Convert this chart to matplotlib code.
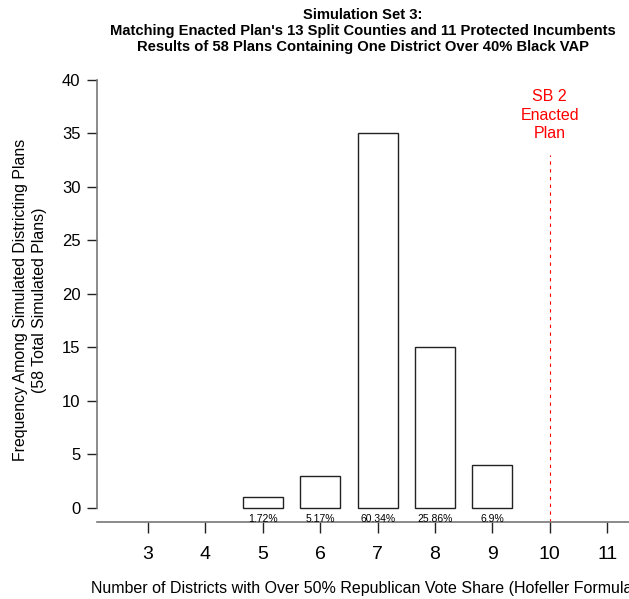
import numpy as np
import matplotlib
matplotlib.use("Agg")
import matplotlib.pyplot as plt

plt.rcParams['font.family'] = ['Liberation Sans', 'DejaVu Sans']

# data
districts = [5, 6, 7, 8, 9]
counts = [1, 3, 35, 15, 4]
pct_labels = ['1.72%', '5.17%', '60.34%', '25.86%', '6.9%']
x_ticks = [3, 4, 5, 6, 7, 8, 9, 10, 11]
y_ticks = [0, 5, 10, 15, 20, 25, 30, 35, 40]
enacted = 10

fig = plt.figure(figsize=(6.29, 5.99), dpi=100)
ax = fig.add_axes([97 / 629, 1 - 522 / 599, 1 - 97 / 629, (522 - 80) / 599])

ax.bar(districts, counts, width=0.7, color='white', edgecolor='#222222', linewidth=1.0)
for x, lab in zip(districts, pct_labels):
    ax.text(x, -1.0, lab, ha='center', va='center', fontsize=7.5)

# enacted plan marker
ax.plot([enacted, enacted], [-1.31, 33], color='red', linestyle=(0, (3, 4)), linewidth=0.8, clip_on=False)
ax.text(enacted, 36.7, 'SB 2\nEnacted\nPlan', color='red', ha='center', va='center',
        fontsize=11.5, linespacing=1.3)

ax.set_xlim(2.11, 11.38)
ax.set_ylim(-1.31, 40)

for s in ['top', 'right']:
    ax.spines[s].set_visible(False)
ax.spines['left'].set_bounds(0, 40)
ax.spines['left'].set_color('#777777')
ax.spines['bottom'].set_color('#777777')
ax.spines['left'].set_linewidth(1.2)
ax.spines['bottom'].set_linewidth(1.2)

ax.set_yticks(y_ticks)
ax.set_xticks(x_ticks)
ax.tick_params(axis='y', direction='out', length=7, width=1, color='#222222', labelsize=12, pad=5)
ax.tick_params(axis='x', direction='out', length=8, width=1, color='#222222', labelsize=14, pad=9)

fig.text(30 / 629, 1 - 300 / 599, 'Frequency Among Simulated Districting Plans\n(58 Total Simulated Plans)',
         rotation=90, ha='center', va='center', fontsize=11.4, linespacing=1.3)
fig.text(91 / 629, 1 - 588 / 599,
         'Number of Districts with Over 50% Republican Vote Share (Hofeller Formula)',
         ha='left', va='center', fontsize=11.5)

fig.text(363 / 629, 1 - 31 / 599,
         "Simulation Set 3:\nMatching Enacted Plan's 13 Split Counties and 11 Protected Incumbents\n"
         "Results of 58 Plans Containing One District Over 40% Black VAP",
         ha='center', va='center', fontsize=10.6, fontweight='bold', linespacing=1.22)

fig.savefig('out.png', dpi=100)
